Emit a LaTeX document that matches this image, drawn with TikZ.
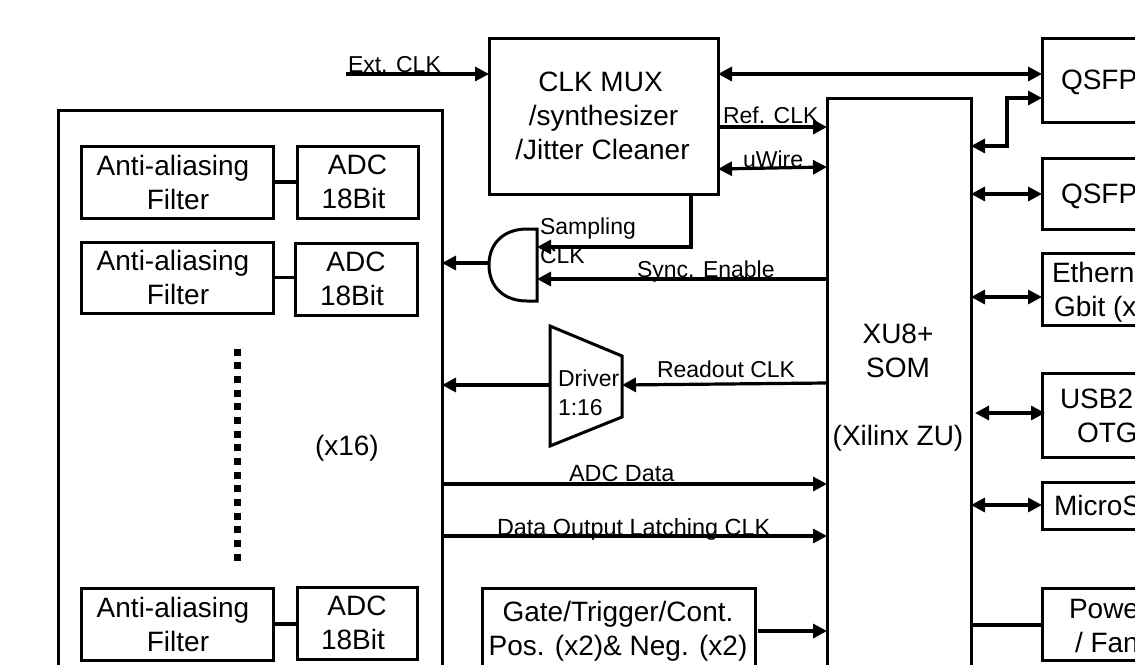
\documentclass[tikz,border=0pt]{standalone}
\usepackage{fontspec}
\setmainfont{Liberation Sans}
\usetikzlibrary{arrows.meta}
\tikzset{
  box/.style={draw=black,line width=3pt,rectangle,inner sep=0pt,outer sep=0pt,align=center,font=\fontsize{28}{34}\selectfont},
  big/.style={inner sep=0pt,outer sep=0pt,font=\fontsize{28}{34}\selectfont,align=center},
  bigw/.style={inner sep=0pt,outer sep=0pt,font=\fontsize{28}{34}\selectfont,anchor=base west},
  small/.style={inner sep=0pt,outer sep=0pt,font=\fontsize{23}{28}\selectfont,anchor=base west},
  wire/.style={line width=3.2pt,draw=black},
  arr/.style={wire,-{Triangle[length=14pt,width=14pt]}},
  biarr/.style={wire,{Triangle[length=14pt,width=14pt]}-{Triangle[length=14pt,width=14pt]}},
  shapeline/.style={line width=3pt,draw=black,line join=miter}
}
\begin{document}
\begin{tikzpicture}[x=1pt,y=-1pt]
\useasboundingbox (0,0) rectangle (1135,664);
\clip (0,0) rectangle (1135,664);
% main boxes
\node[box,minimum width=229pt,minimum height=156pt] (clk) at (603.5,116) {CLK MUX\hspace*{6pt}\\/synthesizer\hspace*{10pt}\\/Jitter Cleaner\hspace*{2pt}};
\node[box,minimum width=384pt,minimum height=590pt] (adcs) at (250,405) {};
\node[box,minimum width=144pt,minimum height=602pt] (som) at (899,399) {};
\node[box,minimum width=273pt,minimum height=112pt] (gate) at (618.5,644) {};
% filter / ADC rows
\node[box,minimum width=192pt,minimum height=72pt] (f1) at (177,182) {Anti-aliasing\hspace*{8pt}\\\hspace*{10pt}Filter\hspace*{8pt}};
\node[box,minimum width=121pt,minimum height=72pt] (a1) at (357.5,182) {ADC\\18Bit\hspace*{8pt}};
\node[box,minimum width=192pt,minimum height=71pt] (f2) at (177,277.5) {Anti-aliasing\hspace*{8pt}\\\hspace*{10pt}Filter\hspace*{8pt}};
\node[box,minimum width=122pt,minimum height=72pt] (a2) at (356,279) {ADC\\18Bit\hspace*{8pt}};
\node[box,minimum width=192pt,minimum height=72pt] (f3) at (177,624) {Anti-aliasing\hspace*{8pt}\\\hspace*{10pt}Filter\hspace*{8pt}};
\node[box,minimum width=120pt,minimum height=72pt] (a3) at (357,623) {ADC\\18Bit\hspace*{8pt}};
\draw[wire] (f1) -- (a1);
\draw[wire] (f2.east) -- (f2.east -| a2.west);
\draw[wire] (f3.east) -- (f3.east -| a3.west);
% right boxes
\node[box,minimum width=160pt,minimum height=84pt] (q1) at (1122,80) {};
\node[box,minimum width=160pt,minimum height=71pt] (q2) at (1122,193.5) {};
\node[box,minimum width=160pt,minimum height=72pt] (eth) at (1122,289) {};
\node[box,minimum width=160pt,minimum height=84pt] (usb) at (1122,415) {};
\node[box,minimum width=160pt,minimum height=47pt] (sd) at (1122,505.5) {};
\node[box,minimum width=160pt,minimum height=72pt] (pwr) at (1122,624) {};
% right text
\node[bigw] (q1t) at (1061,89) {QSFP};
\node[bigw] (q2t) at (1061,203) {QSFP};
\node[bigw] (etht) at (1052,282) {Etherne};
\node[bigw] (gbt) at (1054,316) {Gbit (x};
\node[bigw] (usbt) at (1060,408) {USB2.};
\node[bigw] (otgt) at (1077,442) {OTG};
\node[bigw] (sdt) at (1054,515) {MicroS};
\node[bigw] (pwt) at (1069,618) {Powe};
\node[bigw] (fant) at (1075,652) {/ Fan};
% other text
\node[big] (somt) at (898,388) {XU8+\\SOM\\[34pt](Xilinx ZU)};
\node[bigw] (x16) at (315,455) {(x16)};
\node[big] (gatet) at (618,631) {Gate/Trigger/Cont.\\Pos. (x2)\& Neg. (x2)};
% dots
\coordinate (dtop) at (237,348.5);
\coordinate (dbot) at (237,560.5);
\draw[line width=7pt,dash pattern=on 7pt off 6.67pt] (dtop) -- (dbot);
% gate shape
\coordinate (gtop) at (537,229);
\coordinate (gbot) at (537,301);
\coordinate (gout) at (489,263);
\draw[shapeline] (gtop) -- (527,229) .. controls (504,229) and (489,243) .. (489,265) .. controls (489,287) and (504,301) .. (527,301) -- (gbot) -- cycle;
% driver shape
\coordinate (d1) at (550,326);
\coordinate (d2) at (622,356);
\coordinate (d3) at (622,417);
\coordinate (d4) at (550,446);
\draw[shapeline] (d1) -- (d2) -- (d3) -- (d4) -- cycle;
\coordinate (dout) at (550,385);
\coordinate (din) at (622,385);
% connectors
\coordinate (ext) at (346,74);
\draw[arr] (ext) -- (ext -| clk.west);
\draw[biarr] (clk.east |- ext) -- (q1.west |- ext);
\coordinate (refy) at (718,127);
\draw[arr] (refy) -- (refy -| som.west);
\coordinate (uw) at (718,169);
\coordinate (uwe) at (827,167);
\draw[biarr] (uw) -- (uwe);
\coordinate (samp) at (691,194);
\draw[arr] (samp) -- (691,247) -- (gtop |- 0,247);
\coordinate (sync) at (827,279);
\draw[arr] (sync) -- (gtop |- sync);
\draw[arr] (gout) -- (adcs.east |- gout);
\draw[arr] (dout) -- (adcs.east |- dout);
\coordinate (rd) at (827,383);
\draw[arr] (rd) -- (din);
\coordinate (data) at (442,484);
\draw[arr] (data) -- (data -| som.west);
\coordinate (latch) at (442,536);
\draw[arr] (latch) -- (latch -| som.west);
\coordinate (gs) at (758,631);
\draw[arr] (gs) -- (gs -| som.west);
\coordinate (r1) at (971,146);
\coordinate (r1b) at (1007,98);
\draw[biarr] (r1) -- (r1 -| r1b) -- (r1b) -- (r1b -| q1.west);
\coordinate (r2) at (971,194);
\draw[biarr] (r2) -- (r2 -| q2.west);
\coordinate (r3) at (971,297);
\draw[biarr] (r3) -- (r3 -| eth.west);
\coordinate (r4) at (975,413);
\coordinate (r4b) at (1045,413);
\draw[biarr] (r4) -- (r4b);
\coordinate (r5) at (971,505);
\draw[biarr] (r5) -- (r5 -| sd.west);
\coordinate (r6) at (971,625);
\draw[wire] (r6) -- (r6 -| pwr.west);
% labels
\node[small] (lext) at (348,72) {Ext. CLK};
\node[small] (lref) at (723,123) {Ref. CLK};
\node[small] (luw) at (743,167) {uWire};
\node[small] (lsamp) at (540,234) {Sampling};
\node[small] (lclk) at (540,263) {CLK};
\node[small] (lsync) at (637,277) {Sync. Enable};
\node[small] (ldrv) at (558,386) {Driver};
\node[small] (l116) at (558,415) {1:16};
\node[small] (lrd) at (657,377) {Readout CLK};
\node[small,font=\fontsize{23.4}{28}\selectfont] (ldata) at (569,481) {ADC Data};
\node[small,font=\fontsize{23.4}{28}\selectfont] (llatch) at (497,535) {Data Output Latching CLK};
\end{tikzpicture}
\end{document}
